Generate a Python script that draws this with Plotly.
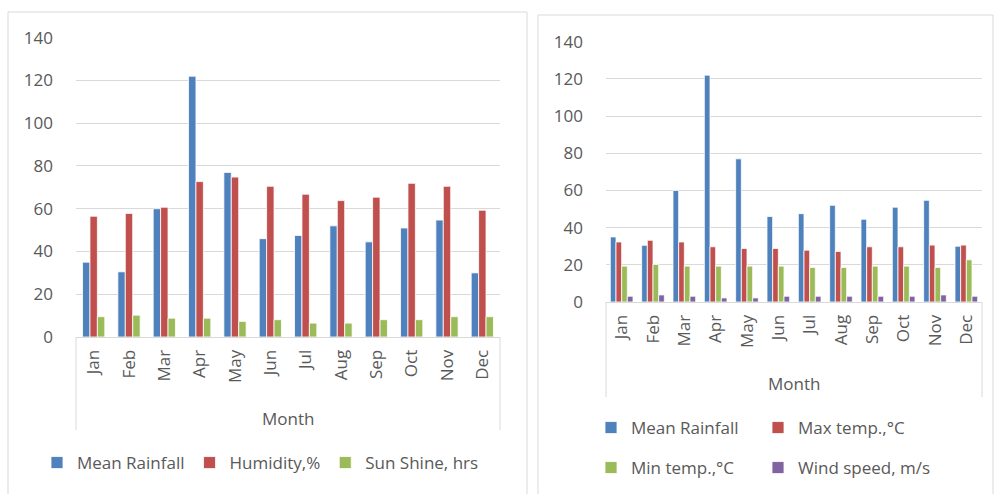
import plotly.graph_objects as go

W, H = 995, 494

months = ["Jan", "Feb", "Mar", "Apr", "May", "Jun",
          "Jul", "Aug", "Sep", "Oct", "Nov", "Dec"]
mean_rainfall = [35, 30.5, 60, 122, 77, 46, 47.5, 52, 44.5, 51, 54.7, 30]
humidity = [56.5, 57.8, 60.7, 72.7, 74.8, 70.5, 66.8, 63.8, 65.4, 71.9, 70.5, 59.3]
sunshine = [9.5, 10.2, 8.8, 8.8, 7.3, 8.1, 6.5, 6.5, 8.1, 8.1, 9.5, 9.5]
max_temp = [32.3, 33.2, 32.3, 29.7, 28.8, 28.8, 27.9, 27.2, 29.7, 29.7, 30.6, 30.6]
min_temp = [19.3, 20.2, 19.3, 19.3, 19.3, 19.3, 18.6, 18.6, 19.3, 19.3, 18.6, 22.7]
wind_speed = [3.1, 3.8, 3.1, 2.2, 2.2, 3.1, 3.1, 3.1, 3.1, 3.1, 3.8, 3.1]

BLUE, RED, GREEN, PURPLE = "#4F81BD", "#C0504D", "#9BBB59", "#8064A2"
TEXT = "#595959"
GRID = "#D9D9D9"
FONT = "Open Sans"
FS = 17


def px(x):
    return x / W


def py(y):
    return 1 - y / H


fig = go.Figure()

# left chart: three series per month
left_series = [("Mean Rainfall", mean_rainfall, BLUE),
               ("Humidity,%", humidity, RED),
               ("Sun Shine, hrs", sunshine, GREEN)]
lw = 0.21
for i, (name, vals, col) in enumerate(left_series):
    fig.add_trace(go.Bar(
        x=months, y=vals, name=name, xaxis="x", yaxis="y",
        width=lw, offset=-1.5 * lw + i * lw,
        marker=dict(color=col, line=dict(color="white", width=0.8)),
        legend="legend"))

# right chart: four series per month, each legend entry in a 2x2 grid
right_series = [("Mean Rainfall", mean_rainfall, BLUE, "legend2"),
                ("Max temp.,\u00b0C", max_temp, RED, "legend3"),
                ("Min temp.,\u00b0C", min_temp, GREEN, "legend4"),
                ("Wind speed, m/s", wind_speed, PURPLE, "legend5")]
rw = 0.181
for i, (name, vals, col, lg) in enumerate(right_series):
    fig.add_trace(go.Bar(
        x=months, y=vals, name=name, xaxis="x2", yaxis="y2",
        width=rw, offset=-2 * rw + i * rw,
        marker=dict(color=col, line=dict(color="white", width=0.8)),
        legend=lg))

axis_font = dict(family=FONT, size=FS, color=TEXT)
xcommon = dict(type="category", showline=True, linecolor=GRID, linewidth=1,
               showgrid=False, ticks="", tickangle=-90, tickfont=axis_font,
               ticklabelstandoff=5, fixedrange=True)
ycommon = dict(range=[0, 140], dtick=20, showgrid=True, gridcolor=GRID,
               gridwidth=1, zeroline=False, showline=False, tickfont=axis_font,
               ticklabelstandoff=22, fixedrange=True)

legend_common = dict(orientation="h", font=dict(family=FONT, size=FS, color=TEXT),
                     bgcolor="rgba(0,0,0,0)", borderwidth=0, xanchor="left",
                     yanchor="middle", traceorder="normal")

fig.update_layout(
    width=W, height=H,
    margin=dict(l=0, r=0, t=0, b=0, autoexpand=False),
    paper_bgcolor="white", plot_bgcolor="white",
    barmode="overlay",
    xaxis=dict(domain=[px(76), px(500)], anchor="y", **xcommon),
    yaxis=dict(domain=[py(337), py(37.7)], anchor="x", **ycommon),
    xaxis2=dict(domain=[px(606), px(982)], anchor="y2", **xcommon),
    yaxis2=dict(domain=[py(302), py(41.7)], anchor="x2", **ycommon),
    legend=dict(x=px(37), y=py(463), **legend_common),
    legend2=dict(x=px(591), y=py(428), **legend_common),
    legend3=dict(x=px(758), y=py(428), **legend_common),
    legend4=dict(x=px(591), y=py(468), **legend_common),
    legend5=dict(x=px(758), y=py(468), **legend_common),
    showlegend=True,
)

shapes = [
    # chart frames
    dict(type="rect", xref="paper", yref="paper", x0=px(8), x1=px(527),
         y0=-0.05, y1=py(12), line=dict(color=GRID, width=1)),
    dict(type="rect", xref="paper", yref="paper", x0=px(538), x1=px(993),
         y0=-0.05, y1=py(15), line=dict(color=GRID, width=1)),
]
# category axis side brackets
for xr, ybot, ytop in (("x domain", 430, 337), ("x2 domain", 397, 302)):
    for xv in (0, 1):
        shapes.append(dict(type="line", xref=xr, yref="paper", x0=xv, x1=xv,
                           y0=py(ybot), y1=py(ytop),
                           line=dict(color=GRID, width=1)))
fig.update_layout(shapes=shapes)

fig.add_annotation(text="Month", xref="paper", yref="paper", x=px(288), y=py(418),
                   showarrow=False, font=axis_font, xanchor="center", yanchor="middle")
fig.add_annotation(text="Month", xref="paper", yref="paper", x=px(794), y=py(383),
                   showarrow=False, font=axis_font, xanchor="center", yanchor="middle")

fig.write_html("out.html")
